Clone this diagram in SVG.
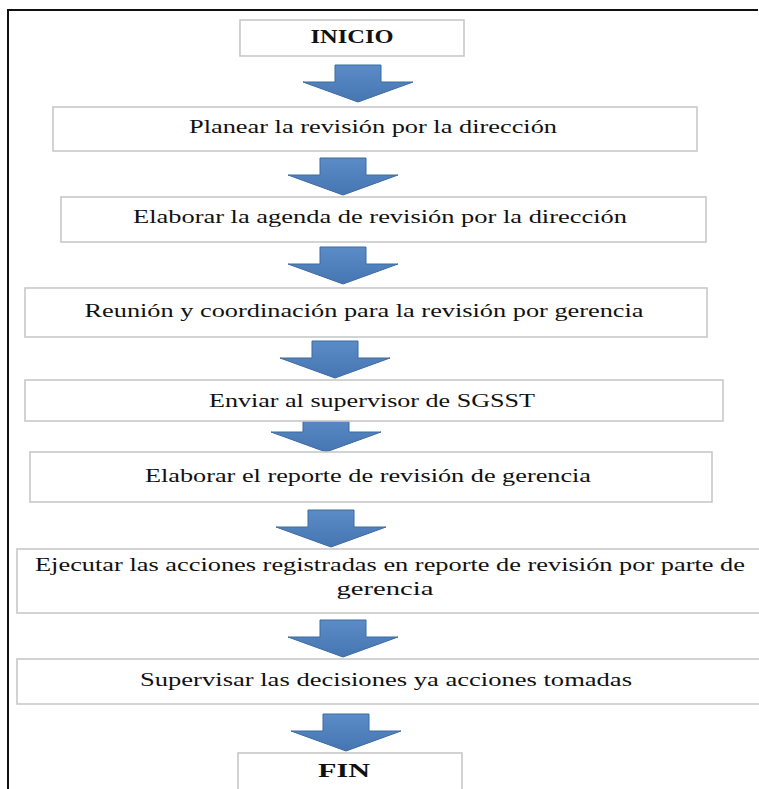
<svg xmlns="http://www.w3.org/2000/svg" width="759" height="789" viewBox="0 0 759 789">
<defs>
<linearGradient id="ag" x1="0" y1="0" x2="0" y2="1">
<stop offset="0" stop-color="#5b8cc8"/>
<stop offset="1" stop-color="#4676b2"/>
</linearGradient>
<path id="arr" d="M-23,0 H23 V17 H55 L0,37 L-55,17 H-23 Z"/>
</defs>
<style>
.box{fill:#fff;stroke:#c8c8c8;stroke-width:1.6}
text{font-family:'Liberation Serif','DejaVu Serif',serif;font-size:18px;fill:#111;text-anchor:middle}
.b{font-weight:bold}
.arrow{fill:url(#ag);stroke:#3d6aa0;stroke-width:1}
.frame{fill:none;stroke:#111;stroke-width:2}
</style>
<rect width="759" height="789" fill="#fff"/>
<path class="frame" d="M8,789 V10 H758"/>
<g id="connectors">
<use href="#arr" class="arrow" x="358" y="65"/>
<use href="#arr" class="arrow" x="343" y="158"/>
<use href="#arr" class="arrow" x="343" y="247"/>
<use href="#arr" class="arrow" x="335" y="341"/>
<use href="#arr" class="arrow" x="326" y="415"/>
<use href="#arr" class="arrow" x="331" y="510"/>
<use href="#arr" class="arrow" x="343" y="620"/>
<use href="#arr" class="arrow" x="346" y="714"/>
</g>
<g id="inicio">
<rect class="box" x="240" y="20" width="224" height="36"/>
<text class="b" font-family="Liberation Serif, serif" x="352" y="43" textLength="83" lengthAdjust="spacingAndGlyphs">INICIO</text>
</g>
<g id="planear">
<rect class="box" x="53" y="107" width="644" height="44"/>
<text font-family="Liberation Serif, serif" x="373" y="133" textLength="368" lengthAdjust="spacingAndGlyphs">Planear la revisión por la dirección</text>
</g>
<g id="agenda">
<rect class="box" x="61" y="197" width="645" height="45"/>
<text font-family="Liberation Serif, serif" x="380" y="223" textLength="494" lengthAdjust="spacingAndGlyphs">Elaborar la agenda de revisión por la dirección</text>
</g>
<g id="reunion">
<rect class="box" x="25" y="288" width="682" height="49"/>
<text font-family="Liberation Serif, serif" x="364" y="317" textLength="559" lengthAdjust="spacingAndGlyphs">Reunión y coordinación para la revisión por gerencia</text>
</g>
<g id="enviar">
<rect class="box" x="25" y="380" width="698" height="41"/>
<text font-family="Liberation Serif, serif" x="372" y="407" textLength="326" lengthAdjust="spacingAndGlyphs">Enviar al supervisor de SGSST</text>
</g>
<g id="reporte">
<rect class="box" x="30" y="452" width="682" height="50"/>
<text font-family="Liberation Serif, serif" x="368" y="482" textLength="446" lengthAdjust="spacingAndGlyphs">Elaborar el reporte de revisión de gerencia</text>
</g>
<g id="ejecutar">
<rect class="box" x="17" y="549" width="760" height="64"/>
<text font-family="Liberation Serif, serif" x="390" y="571" textLength="710" lengthAdjust="spacingAndGlyphs">Ejecutar las acciones registradas en reporte de revisión por parte de</text>
<text font-family="Liberation Serif, serif" x="385" y="595" textLength="97" lengthAdjust="spacingAndGlyphs">gerencia</text>
</g>
<g id="supervisar">
<rect class="box" x="17" y="659" width="760" height="45"/>
<text font-family="Liberation Serif, serif" x="386" y="686" textLength="492" lengthAdjust="spacingAndGlyphs">Supervisar las decisiones ya acciones tomadas</text>
</g>
<g id="fin">
<rect class="box" x="238" y="753" width="224" height="50"/>
<text class="b" font-family="Liberation Serif, serif" x="344" y="777" textLength="52" lengthAdjust="spacingAndGlyphs">FIN</text>
</g>
</svg>
